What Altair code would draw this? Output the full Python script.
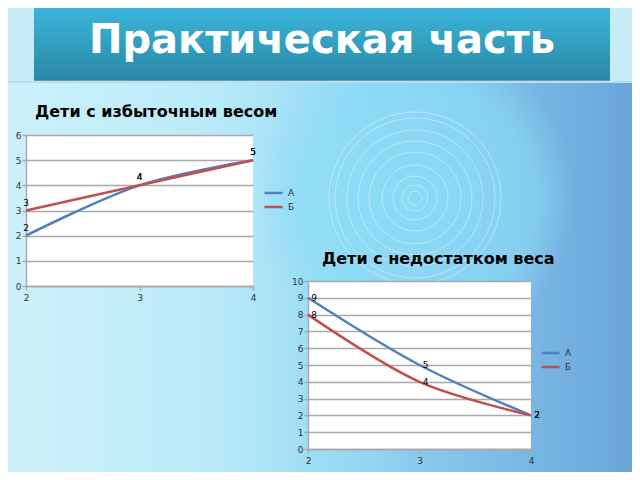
import altair as alt
import pandas as pd

# ---------------- data ----------------
x_vals = [2, 3, 4]
series_names = ["А", "Б"]
over_a = [2, 4, 5]
over_b = [3, 4, 5]
under_a = [9, 5, 2]
under_b = [8, 4, 2]
y1_ticks = [0, 1, 2, 3, 4, 5, 6]
y2_ticks = [0, 1, 2, 3, 4, 5, 6, 7, 8, 9, 10]
title_main = "Практическая часть"
title1 = "Дети с избыточным весом"
title2 = "Дети с недостатком веса"
ring_radii = [7, 13, 22, 33, 46, 57, 68, 80, 86]

BLUE = "#4f81bd"
RED = "#c0504d"
GRID = "#a9a9a9"
FONT = "DejaVu Sans"


def long_table(a, b):
    rows = []
    for s, vals in zip(series_names, [a, b]):
        for x, v in zip(x_vals, vals):
            rows.append({"x": x, "v": v, "s": s})
    return pd.DataFrame(rows)


def panel(df, title, w, h, ymax, yticks, ldx, ldy, tdx, toff, lx, ly):
    xs = alt.Scale(type="point", domain=x_vals, padding=0)
    ys = alt.Scale(domain=[0, ymax], nice=False, zero=True)
    x_axis = alt.Axis(title=None, grid=False, labelAngle=0,
                      domainColor=GRID, domainWidth=1.5, tickColor=GRID,
                      tickWidth=1.5, tickSize=4, labelFontSize=9, labelFont=FONT,
                      labelColor="#333333", labelPadding=3, labelOverlap=False)
    y_axis = alt.Axis(values=yticks, format="d", title=None, grid=True,
                      gridColor=GRID, gridWidth=1.5, domainColor=GRID,
                      domainWidth=1.5, tickColor=GRID, tickWidth=1.5, tickSize=4,
                      labelFontSize=9, labelFont=FONT, labelColor="#333333",
                      labelPadding=1, labelFlush=False, labelOverlap=False)
    base = alt.Chart(df).encode(
        x=alt.X("x:O", scale=xs, axis=x_axis),
        y=alt.Y("v:Q", scale=ys, axis=y_axis),
    )
    line = base.mark_line(interpolate="catmull-rom", strokeWidth=2.5).encode(
        color=alt.Color(
            "s:N",
            scale=alt.Scale(domain=series_names, range=[BLUE, RED]),
            legend=alt.Legend(orient="none", legendX=lx, legendY=ly, title=None,
                              labelFontSize=9, labelFont=FONT,
                              labelColor="#333333",
                              symbolType="M-1.64,0L1.64,0",
                              symbolStrokeWidth=2.5, symbolSize=121,
                              symbolFillColor="transparent",
                              rowPadding=2, labelOffset=7.5, padding=0),
        )
    )
    text = base.mark_text(dx=ldx, dy=ldy, fontSize=9, font=FONT,
                          color="black").encode(text="v:Q")
    return alt.layer(line, text).properties(
        width=w, height=h,
        title=alt.TitleParams(text=title, anchor="start", frame="group", dx=tdx,
                              offset=toff, fontSize=16, font=FONT,
                              fontWeight="bold", color="black",
                              baseline="alphabetic"),
        view=alt.ViewBackground(fill="white", stroke=None),
    )


chart1 = panel(long_table(over_a, over_b), title1, 227, 151, 6, y1_ticks,
               0, -8, 9, -2, 240.5, 51)
chart2 = panel(long_table(under_a, under_b), title2, 223, 168, 10, y2_ticks,
               6, 0, 14, -3, 235.5, 65)

# ---------------- slide decoration ----------------
deco = pd.DataFrame({"t": [title_main]})
rings = pd.DataFrame({"r": ring_radii})
rings["area"] = (2 * rings["r"]) ** 2

bg = alt.Chart(deco).mark_rect(
    color=alt.LinearGradient(
        gradient="linear", x1=0, y1=0, x2=1, y2=0,
        stops=[alt.GradientStop(color="#cdf1fa", offset=0),
               alt.GradientStop(color="#b9eaf8", offset=0.33),
               alt.GradientStop(color="#94d9f4", offset=0.55),
               alt.GradientStop(color="#82c3ea", offset=0.72),
               alt.GradientStop(color="#6ba5d9", offset=1)])
).encode(x=alt.value(-18), x2=alt.value(606), y=alt.value(0), y2=alt.value(464))

top_band = alt.Chart(deco).mark_rect(color="#c8ecf7").encode(
    x=alt.value(-18), x2=alt.value(606), y=alt.value(0), y2=alt.value(74))

glow = alt.Chart(deco).mark_rect(
    color=alt.RadialGradient(
        gradient="radial", x1=0.5, y1=0.5, r1=0, x2=0.5, y2=0.5, r2=0.5,
        stops=[alt.GradientStop(color="rgba(140,220,248,0.85)", offset=0),
               alt.GradientStop(color="rgba(140,220,248,0.6)", offset=0.75),
               alt.GradientStop(color="rgba(140,220,248,0)", offset=1)])
).encode(x=alt.value(229), x2=alt.value(549), y=alt.value(30), y2=alt.value(350))

ring_marks = alt.Chart(rings).mark_point(
    shape="circle", filled=False, color="white", strokeWidth=1, opacity=0.4
).encode(x=alt.value(389), y=alt.value(190), size=alt.Size("area:Q", scale=None))

banner = alt.Chart(deco).mark_rect(
    color=alt.LinearGradient(
        gradient="linear", x1=0, y1=0, x2=0, y2=1,
        stops=[alt.GradientStop(color="#3bb5da", offset=0),
               alt.GradientStop(color="#2a88a6", offset=1)])
).encode(x=alt.value(8), x2=alt.value(584), y=alt.value(0), y2=alt.value(72))

shadow_dark = alt.Chart(deco).mark_rect(color="#6f9aa8").encode(
    x=alt.value(8), x2=alt.value(584), y=alt.value(72), y2=alt.value(73))
shadow_light = alt.Chart(deco).mark_rect(color="#b3e0f2").encode(
    x=alt.value(-18), x2=alt.value(606), y=alt.value(73), y2=alt.value(75))

title_text = alt.Chart(deco).mark_text(
    font=FONT, fontWeight="bold", fontSize=40, color="white",
    align="center", baseline="middle"
).encode(x=alt.value(296), y=alt.value(33), text="t:N")

top = alt.layer(bg, top_band, glow, ring_marks, banner, shadow_dark,
                shadow_light, title_text).properties(
    width=584, height=72, view=alt.ViewBackground(fill=None, stroke=None))

spacer = alt.Chart(deco).mark_point(opacity=0).encode(
    x=alt.value(0), y=alt.value(0)).properties(
    width=223, height=140, view=alt.ViewBackground(fill=None, stroke=None))

col2 = alt.vconcat(spacer, chart2, spacing=6, bounds="flush").resolve_scale(
    color="independent", x="independent", y="independent")
row = alt.hconcat(chart1, col2, spacing=55, bounds="flush").resolve_scale(
    color="independent", x="independent", y="independent")
chart = alt.vconcat(top, row, spacing=55, bounds="flush").resolve_scale(
    color="independent", x="independent", y="independent").properties(
    padding=0, background="#c9eff9").configure_view(stroke=None)

chart.save("out.html", embed_options={"renderer": "svg", "actions": False})
